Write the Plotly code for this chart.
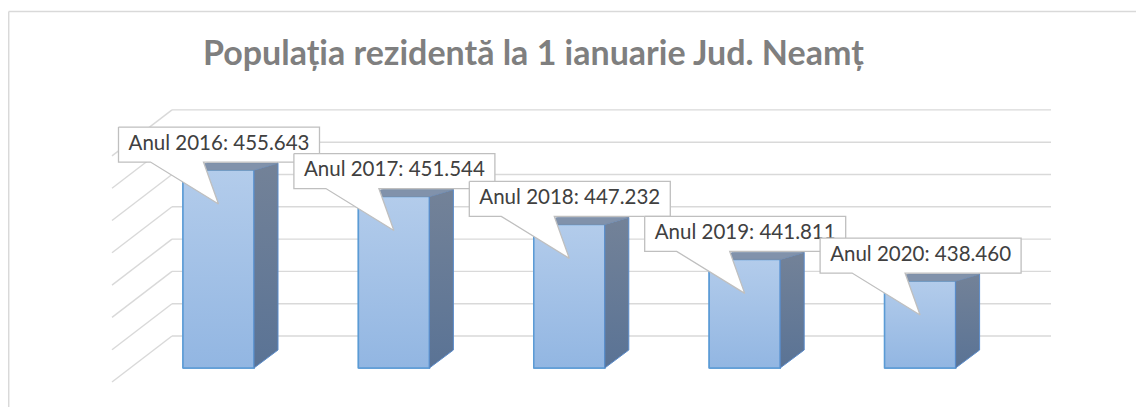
import plotly.graph_objects as go

# ---- data ----
years = ["2016", "2017", "2018", "2019", "2020"]
values = [455643, 451544, 447232, 441811, 438460]
labels = ["Anul 2016: 455.643", "Anul 2017: 451.544", "Anul 2018: 447.232",
          "Anul 2019: 441.811", "Anul 2020: 438.460"]
grid_values = [425000, 430000, 435000, 440000, 445000, 450000, 455000, 460000]
axis_min = 425000
title = "Populația rezidentă la 1 ianuarie Jud. Neamț"

# ---- layout / projection constants (page pixels) ----
PAGE_OFF = 8           # body margin of the html page
W, H = 1144 - PAGE_OFF, 407 - PAGE_OFF
X0_PX = 218.5 - PAGE_OFF     # pixel centre of first category
PX_PER_CAT = 175.4           # pixels between categories
BASE_PX = 368 - PAGE_OFF     # pixel row of axis_min on the bar plane
PX_PER_UNIT = 32.3 / 5000.0

def dx(px):
    return px / PX_PER_CAT

def dv(px):
    return px / PX_PER_UNIT

def px2x(page_px):
    return (page_px - PAGE_OFF - X0_PX) / PX_PER_CAT

def pgx(page_px):
    return (page_px - PAGE_OFF) / W

def pgy(page_py):
    return 1 - (page_py - PAGE_OFF) / H

xr = [px2x(PAGE_OFF), px2x(PAGE_OFF + W)]
yr = [axis_min - dv(H - BASE_PX), axis_min + dv(BASE_PX)]

bar_w = dx(71)
depth_x = dx(24)
depth_top = dv(7)
depth_bot = dv(18)

fig = go.Figure()

# back wall + side wall grid lines (below bars)
shapes = []
back_off = dv(32)
front_off = -dv(14)
for g in grid_values:
    shapes.append(dict(type="line", xref="x", yref="y", layer="below",
                       x0=px2x(172), x1=px2x(1051), y0=g + back_off, y1=g + back_off,
                       line=dict(color="#d9d9d9", width=1.4)))
    shapes.append(dict(type="line", xref="x", yref="y", layer="below",
                       x0=px2x(172), x1=px2x(112), y0=g + back_off, y1=g + front_off,
                       line=dict(color="#d9d9d9", width=1.4)))

# chart border (paper)
shapes.append(dict(type="line", xref="paper", yref="paper",
                   x0=pgx(8.7), x1=1.01, y0=pgy(11.5), y1=pgy(11.5),
                   line=dict(color="#d9d9d9", width=1.5)))
shapes.append(dict(type="line", xref="paper", yref="paper",
                   x0=pgx(8.7), x1=pgx(8.7), y0=-0.01, y1=pgy(11.5),
                   line=dict(color="#d9d9d9", width=1.5)))

x_pos = list(range(len(years)))

# front faces
fig.add_trace(go.Bar(
    x=x_pos, y=[v - axis_min for v in values], base=axis_min, width=bar_w,
    marker=dict(color="#a4c2e8", line=dict(color="#5b9bd5", width=1.5)),
    hoverinfo="skip", showlegend=False))

# front-face shading, side + top faces
for i, v in enumerate(values):
    xl = i - bar_w / 2
    xrr = i + bar_w / 2
    fig.add_trace(go.Scatter(
        x=[xl, xrr, xrr, xl, xl],
        y=[axis_min, axis_min, v, v, axis_min],
        mode="lines", fill="toself",
        fillgradient=dict(type="vertical",
                          colorscale=[[0, "#92b6e2"], [1, "#b3cceb"]]),
        line=dict(color="#5b9bd5", width=1.5),
        hoverinfo="skip", showlegend=False))
    fig.add_trace(go.Scatter(
        x=[xrr, xrr + depth_x, xrr + depth_x, xrr, xrr],
        y=[axis_min, axis_min + depth_bot, v + depth_top, v, axis_min],
        mode="lines", fill="toself",
        fillgradient=dict(type="vertical",
                          colorscale=[[0, "#5a7395"], [1, "#738298"]]),
        line=dict(color="#5b8ccb", width=1),
        hoverinfo="skip", showlegend=False))
    fig.add_trace(go.Scatter(
        x=[xl, xrr, xrr + depth_x, xl + depth_x, xl],
        y=[v, v, v + depth_top, v + depth_top, v],
        mode="lines", fill="toself", fillcolor="#8192ab",
        line=dict(color="#7b8ea8", width=0.8),
        hoverinfo="skip", showlegend=False))

# callouts
for i, (v, lab) in enumerate(zip(values, labels)):
    c = i
    left = c - dx(100)
    right = c + dx(101)
    b_low = v + dv(8)
    b_high = v + dv(43)
    p1 = c - dx(68)
    p2 = c - dx(15)
    tip_y = v - dv(34)
    fig.add_trace(go.Scatter(
        x=[left, right, right, p2, c, p1, left, left],
        y=[b_high, b_high, b_low, b_low, tip_y, b_low, b_low, b_high],
        mode="lines", fill="toself", fillcolor="#ffffff",
        line=dict(color="#bfbfbf", width=1.3),
        hoverinfo="skip", showlegend=False))
    fig.add_trace(go.Scatter(
        x=[c + dx(0.5)], y=[v + dv(25.5)], mode="text", text=[lab],
        textposition="middle center",
        textfont=dict(family="Lato", size=20.5, color="#404040"),
        hoverinfo="skip", showlegend=False))

fig.update_layout(
    width=W, height=H, autosize=False,
    margin=dict(l=0, r=0, t=0, b=0, pad=0),
    paper_bgcolor="white", plot_bgcolor="white",
    xaxis=dict(range=xr, visible=False, fixedrange=True),
    yaxis=dict(range=yr, visible=False, fixedrange=True),
    shapes=shapes, showlegend=False,
    annotations=[dict(text="<b>" + title + "</b>", xref="paper", yref="paper",
                      x=pgx(533.5), y=pgy(51), xanchor="center", yanchor="middle",
                      showarrow=False,
                      font=dict(family="Lato", size=34, color="#7f7f7f"))],
)

fig.write_html("out.html")
